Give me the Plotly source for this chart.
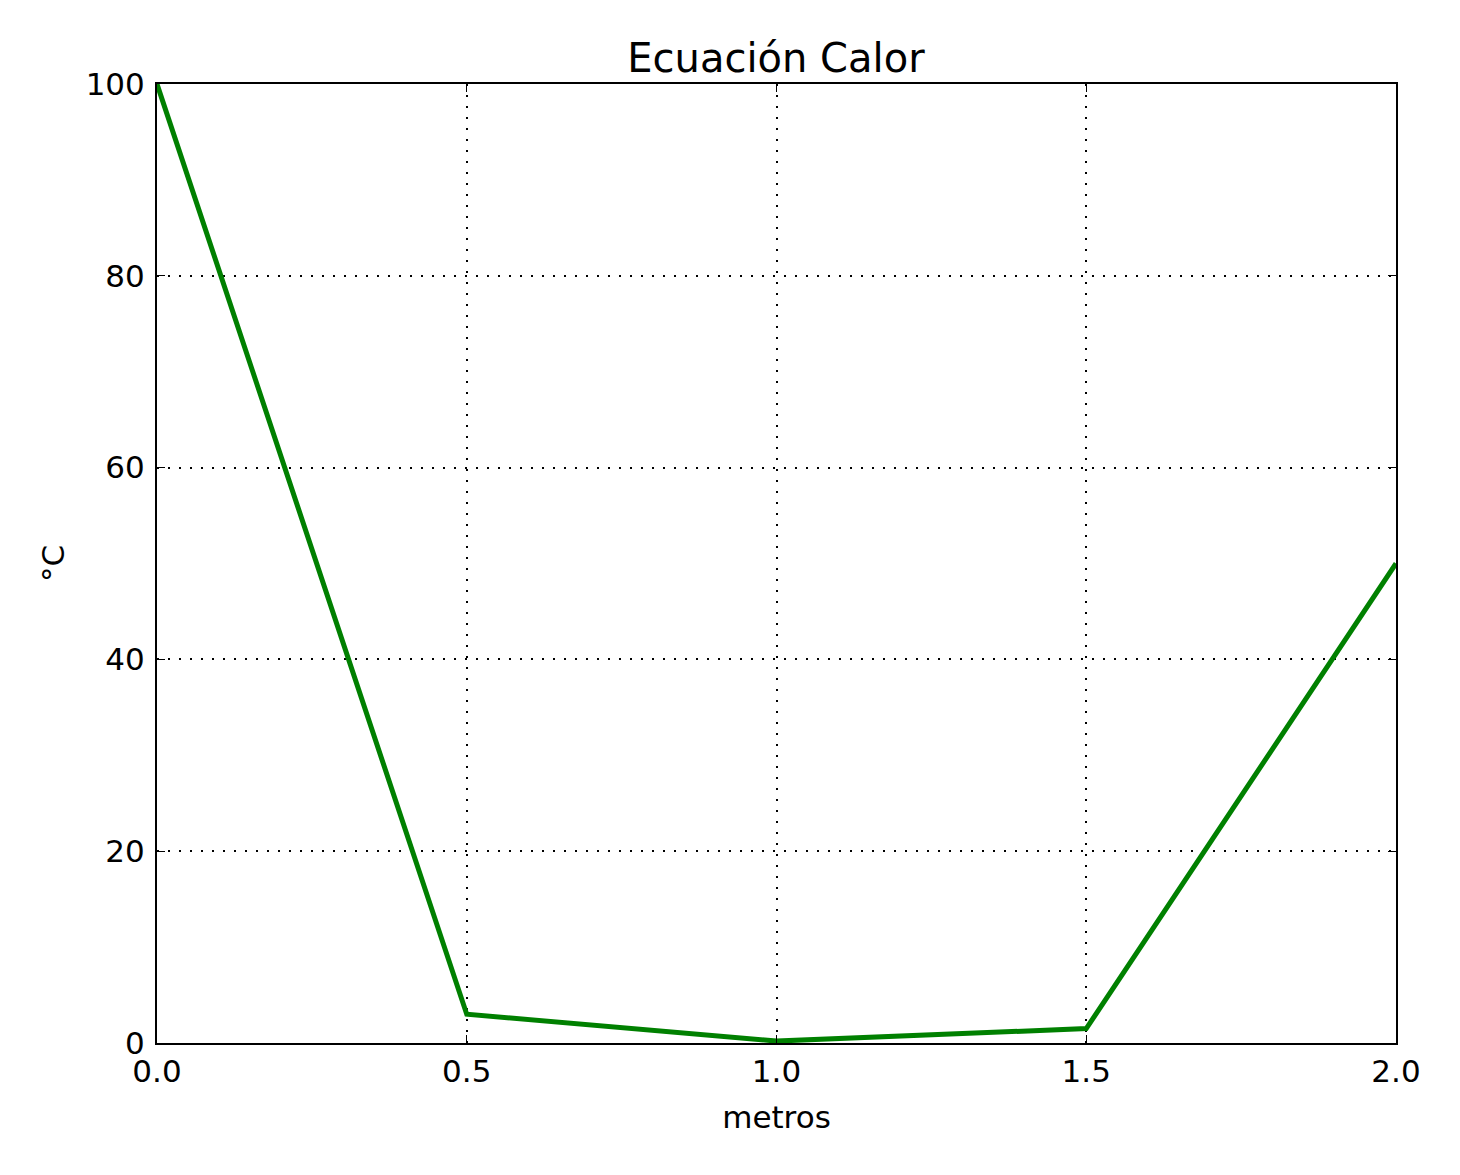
import plotly.graph_objects as go

# Datos de la curva de temperatura
metros = [0.0, 0.5, 1.0, 1.5, 2.0]
temperatura = [100, 3.0, 0.2, 1.5, 50]

x_ticks = [0.0, 0.5, 1.0, 1.5, 2.0]
y_ticks = [0, 20, 40, 60, 80, 100]

fig = go.Figure()
fig.add_trace(go.Scatter(x=metros, y=temperatura, mode="lines",
                         line=dict(color="#008000", width=5)))

eje = dict(showline=True, linecolor="black", linewidth=2, mirror="allticks",
           ticks="inside", ticklen=8, tickwidth=1, tickcolor="black",
           showgrid=True, gridcolor="black", gridwidth=1.5, griddash="2px,9px",
           zeroline=False, tickfont=dict(size=31, color="black"))

fig.update_layout(
    width=1460, height=1175,
    paper_bgcolor="white", plot_bgcolor="white",
    font=dict(family="DejaVu Sans", color="black"),
    margin=dict(l=149, r=72, t=76, b=140),
    showlegend=False,
    title=dict(text="Ecuación Calor", x=0.526, xanchor="center",
               y=1 - 50 / 1175, yanchor="middle", font=dict(size=40)),
    xaxis=dict(eje, range=[0, 2], tickvals=x_ticks, tickformat=".1f",
               title=dict(text="metros", font=dict(size=31), standoff=18)),
    yaxis=dict(eje, range=[0, 100], tickvals=y_ticks, ticklabelstandoff=4,
               title=dict(text="°C", font=dict(size=31), standoff=12)),
)

fig.write_html("out.html")
